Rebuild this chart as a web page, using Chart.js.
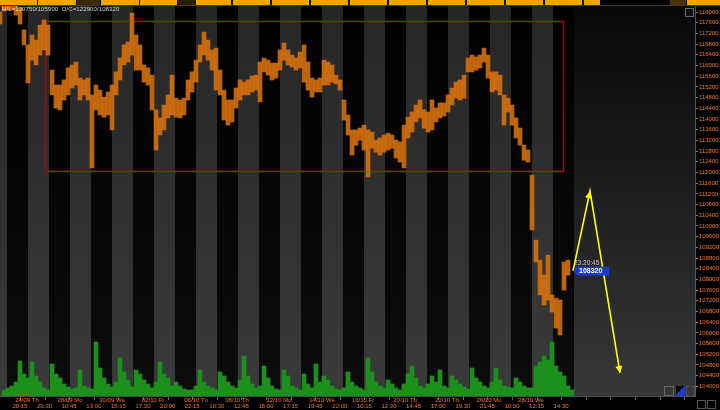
<!DOCTYPE html>
<html><head><meta charset="utf-8">
<script src="https://cdn.jsdelivr.net/npm/chart.js@4.4.1/dist/chart.umd.min.js"></script>
<style>
html,body{margin:0;padding:0;background:#000;width:720px;height:410px;overflow:hidden;}
#c{position:absolute;left:0;top:0;}
.seg{position:absolute;top:0;height:5px;}
.hdr{position:absolute;left:2px;top:6px;font:6px "Liberation Sans",Arial,sans-serif;color:#d8d8d8;white-space:pre;letter-spacing:0.1px;}
.ico{position:absolute;box-sizing:border-box;border:1px solid #555;}
</style></head><body>
<canvas id="c" width="720" height="410"></canvas>
<div id="bar"></div>
<div class="hdr">H/L=130750/105900  O/C=122900/108320</div>
<div class="ico" style="left:685px;top:8px;width:9px;height:9px;border-color:#666;background:#111"></div>
<div class="ico" style="left:664px;top:386px;width:10px;height:10px;border-color:#666"></div>
<div class="ico" style="left:676px;top:386px;width:9px;height:10px;border:none;background:linear-gradient(135deg,#000 45%,#1a3ccc 46%);"></div>
<div class="ico" style="left:686px;top:386px;width:9px;height:10px;border:1px dashed #555"></div>
<div class="ico" style="left:697px;top:400px;width:9px;height:9px;border-color:#555"></div>
<div class="ico" style="left:707px;top:400px;width:9px;height:9px;border-color:#555"></div>
<script>
// ---- data ----
const priceHigh = [118000,118220,118220,118220,118220,118150,117330,116770,117140,116950,117510,117700,117510,
 115830,115270,115270,115460,115910,116020,116130,115530,115460,115530,114900,115270,
 115080,114820,115010,115270,115760,116280,116770,116880,117960,117140,116770,116020,115910,
 115640,114340,114040,114520,114900,115640,114780,114710,114780,115460,115760,116200,116770,
 117250,116950,116580,116650,115830,115080,114710,114710,115160,115460,115380,115460,115610,
 115640,116130,116280,116200,116090,116090,116580,116840,116580,116390,116280,116500,116770,
 116130,115530,115460,115530,116200,116130,116020,115640,115460,114710,114150,113590,113590,
 113660,113770,113590,113510,113210,113290,113400,113470,113400,113210,113140,113770,114070,
 114260,114520,114710,114340,114260,114710,114410,114600,114600,114900,115160,115380,115460,
 115640,116280,116390,116320,116390,116650,116390,115760,115760,115640,114900,114780,114520,
 114040,113660,113020,112840,111900,109470,108720,108160,108910,107420,107300,107230,108650,108720];
const priceLow = [117550,118040,118080,118080,117890,117550,116770,115350,116200,116020,116390,116580,116390,
 114900,114410,114340,114710,114900,115160,115270,114710,114900,114710,112170,114340,
 114150,114070,114150,113590,114900,115460,116020,116130,116390,115830,115830,115380,115270,
 114340,112840,113400,113590,114040,114150,114070,114040,114150,114710,115010,115380,116130,
 116390,116200,115830,115080,114900,113960,113770,113890,114410,114710,114900,114900,115010,
 115080,114640,115760,115640,115460,115530,115830,116200,116020,115940,115830,115910,115380,
 115080,114820,115010,115010,115270,115270,115380,115310,115080,113960,113400,112650,113020,
 113210,112840,111830,112910,112760,112650,112760,112840,112910,112540,112390,112170,113290,
 113510,113890,114040,113660,113510,113590,113890,114040,114110,114260,114520,114780,114710,
 114780,115760,115760,115830,115910,116130,115530,115010,115080,114900,113770,114260,113770,
 113290,113020,112460,112390,109850,108650,107420,107040,107230,106780,106180,105920,107600,108160];
const volume = [60,80,100,140,350,220,180,340,200,140,80,60,320,
 220,180,120,90,70,80,260,100,80,70,540,280,
 180,120,90,140,380,240,160,90,260,220,160,120,80,
 140,340,220,180,100,140,100,70,60,60,100,260,140,
 100,80,60,240,200,140,100,80,160,400,200,120,80,
 100,300,180,100,70,60,260,200,100,80,60,220,120,
 80,320,140,200,160,100,70,60,80,240,140,100,80,
 60,380,240,140,100,80,160,120,80,60,120,220,300,
 180,100,80,120,200,140,260,100,80,200,160,120,90,
 70,280,180,140,100,80,140,280,160,100,90,80,180,
 140,100,80,80,300,340,400,360,540,300,240,200,100,60];
const sessionStarts = [-0.5,1.25,6.5,11.75,17,22.25,27.5,32.75,38,43.25,48.5,53.75,59,64.25,69.5,74.75,80,85.25,90.5,95.75,101,106.25,111.5,116.75,122,127.25,132.5,137.75];
const sessionEnd = 143;
const priceTicks = [104000,104400,104800,105200,105600,106000,106400,106800,107200,107600,108000,108400,108800,109200,109600,110000,110400,110800,111200,111600,112000,112400,112800,113200,113600,114000,114400,114800,115200,115600,116000,116400,116800,117200,117600,118000];
const timeTickPos = [4.5,10.65,16.8,22.95,29.1,35.25,41.4,47.55,53.7,59.85,66,72.15,78.3,84.45,90.6,96.75,102.9,109.05,115.2,121.35,127.5,133.65,139.8,145.95,152.1,158.25,164.4,170.55];
const timeTickLabels = ["20:15","22:30","10:45","13:00","15:15","17:30","20:00","22:15","10:30","12:45","15:00","17:15","19:45","22:00","10:15","12:30","14:45","17:00","19:30","21:45","10:00","12:15","14:30","","","","",""];
const dateTickPos = [6.25,17,27.5,37.75,48.5,58.75,69.25,80,90.25,100.75,111.25,121.75,132.25];
const dateTickLabels = ["24/09 Th","28/09 Mo","30/09 We","02/10 Fr","06/10 Tu","08/10 Th","12/10 Mo","14/10 We","16/10 Fr","20/10 Tu","22/10 Th","26/10 Mo","28/10 We"];
const zoneBox = {from:10.75, to:140.25, high:117660, low:112050};
const projX = [142.75, 147, 154.5];
const projY = [108320, 111300, 104500];
const lastPrice = 108320;
const lastTime = "23:20:45";

const segs=[[0,37,'#f5a300'],[38,76,'#f5a300'],[77,100,'#3a2800'],[101,139,'#f5a300'],[140,177,'#f5a300'],[178,195,'#2a1c00'],[196,231,'#f5a300'],[233,270,'#f5a300'],[272,309,'#f5a300'],[311,348,'#f5a300'],[350,387,'#f5a300'],[389,426,'#f5a300'],[428,465,'#f5a300'],[467,504,'#f5a300'],[506,543,'#f5a300'],[545,582,'#f5a300'],[584,600,'#f5a300'],[670,686,'#4a3300'],[687,720,'#f5a300']];
const bar=document.getElementById('bar');
segs.forEach(s=>{const d=document.createElement('div');d.className='seg';d.style.left=s[0]+'px';d.style.width=(s[1]-s[0])+'px';d.style.background=s[2];bar.appendChild(d);});
const ln=document.createElement('div');ln.style.cssText='position:absolute;left:0;top:5px;width:720px;height:1px;background:#3a3a3a';bar.appendChild(ln);

Chart.defaults.font.family = '"Liberation Sans", Arial, sans-serif';
const ORANGE = '#f07820';
const tickFont = {size:6};

const bgPlugin = {
  id:'bg',
  beforeDraw(chart){
    const c=chart.ctx; c.save(); c.fillStyle='#000'; c.fillRect(0,0,chart.width,chart.height); c.restore();
  },
  beforeDatasetsDraw(chart){
    const {ctx, chartArea:a, scales:{x,y}} = chart;
    ctx.save();
    const g = ctx.createLinearGradient(0,a.top,0,a.bottom);
    g.addColorStop(0,'#080808'); g.addColorStop(0.5,'#1e1e1e'); g.addColorStop(1,'#383838');
    ctx.fillStyle=g; ctx.fillRect(a.left,a.top,a.width,a.height);
    const gGray = ctx.createLinearGradient(0,a.top,0,a.bottom);
    gGray.addColorStop(0,'#262626'); gGray.addColorStop(1,'#3a3a3a');
    const gBlack = ctx.createLinearGradient(0,a.top,0,a.bottom);
    gBlack.addColorStop(0,'#000'); gBlack.addColorStop(1,'#0c0c0c');
    for(let i=0;i<sessionStarts.length;i++){
      const e = i+1<sessionStarts.length ? sessionStarts[i+1] : sessionEnd;
      const x0=Math.max(a.left, x.getPixelForValue(sessionStarts[i])), x1=x.getPixelForValue(e);
      ctx.fillStyle = i%2===0 ? gGray : gBlack;
      ctx.fillRect(Math.round(x0), a.top, Math.round(x1)-Math.round(x0), a.height);
    }
    const rx0=Math.round(x.getPixelForValue(zoneBox.from))+0.5, rx1=Math.round(x.getPixelForValue(zoneBox.to))+0.5;
    const ry0=Math.round(y.getPixelForValue(zoneBox.high))+0.5, ry1=Math.round(y.getPixelForValue(zoneBox.low))+0.5;
    ctx.strokeStyle='#b80000'; ctx.lineWidth=1.5;
    ctx.strokeRect(rx0,ry0,rx1-rx0,ry1-ry0);
    ctx.restore();
  },
  afterDatasetsDraw(chart){
    const {ctx, scales:{x,y}, chartArea:a} = chart;
    ctx.save();
    ctx.fillStyle='#ffff00';
    for(let i=1;i<projX.length;i++){
      const px=x.getPixelForValue(projX[i]), py=y.getPixelForValue(projY[i]);
      const qx=x.getPixelForValue(projX[i-1]), qy=y.getPixelForValue(projY[i-1]);
      const ang=Math.atan2(py-qy,px-qx), L=7, W=3.5;
      ctx.beginPath();
      ctx.moveTo(px,py);
      ctx.lineTo(px-L*Math.cos(ang)+W*Math.sin(ang), py-L*Math.sin(ang)-W*Math.cos(ang));
      ctx.lineTo(px-L*Math.cos(ang)-W*Math.sin(ang), py-L*Math.sin(ang)+W*Math.cos(ang));
      ctx.closePath(); ctx.fill();
    }
    const ly=Math.round(y.getPixelForValue(lastPrice));
    const lx=Math.round(x.getPixelForValue(priceHigh.length-1))+3;
    ctx.fillStyle='#1b3ad6';
    ctx.beginPath();
    ctx.moveTo(lx,ly); ctx.lineTo(lx+4,ly-4.5); ctx.lineTo(lx+36,ly-4.5); ctx.lineTo(lx+36,ly+4.5); ctx.lineTo(lx+4,ly+4.5); ctx.closePath(); ctx.fill();
    ctx.fillStyle='#ffffff'; ctx.font='bold 7px "Liberation Sans", Arial'; ctx.textBaseline='middle'; ctx.textAlign='left';
    ctx.fillText(String(lastPrice), lx+6, ly+0.5);
    ctx.fillStyle='#cfcfcf'; ctx.font='6.5px "Liberation Sans", Arial';
    ctx.fillText(lastTime, lx+1, ly-8);
    ctx.beginPath(); ctx.moveTo(0,a.bottom+0.5); ctx.lineTo(a.right,a.bottom+0.5); ctx.strokeStyle='#4a4a4a'; ctx.lineWidth=1; ctx.stroke();
    ctx.strokeStyle='#666';
    timeTickPos.forEach(v=>{const px=Math.round(x.getPixelForValue(v))+0.5; ctx.beginPath(); ctx.moveTo(px,a.bottom+1); ctx.lineTo(px,a.bottom+4); ctx.stroke();});
    ctx.font='6px "Liberation Sans", Arial'; ctx.textAlign='center'; ctx.textBaseline='top'; ctx.fillStyle=ORANGE;
    dateTickPos.forEach((v,i)=>ctx.fillText(dateTickLabels[i], x.getPixelForValue(v), a.bottom+1.5));
    timeTickPos.forEach((v,i)=>{ if(timeTickLabels[i]) ctx.fillText(timeTickLabels[i], x.getPixelForValue(v), a.bottom+7.5); });
    ctx.restore();
  }
};

const priceData = priceHigh.map((h,i)=>({x:i, y:[priceLow[i], h]}));
const volData = volume.map((v,i)=>({x:i, y:v}));
const projData = projX.map((v,i)=>({x:v, y:projY[i]}));

new Chart(document.getElementById('c'), {
  type:'bar',
  data:{datasets:[
    {type:'line', data:projData, borderColor:'#ffff00', borderWidth:1.6, pointRadius:0, order:1, yAxisID:'y', xAxisID:'x', tension:0},
    {data:priceData, backgroundColor:'rgba(222,116,14,0.85)', borderWidth:0, barThickness:4, order:2, yAxisID:'y', xAxisID:'x'},
    {data:volData, backgroundColor:'#1b901b', borderWidth:0, barThickness:4, order:3, yAxisID:'yVol', xAxisID:'x'}
  ]},
  options:{
    responsive:false, animation:false, devicePixelRatio:1,
    layout:{padding:{top:6,left:0,right:0,bottom:14}},
    plugins:{legend:{display:false}, tooltip:{enabled:false}},
    scales:{
      x:{type:'linear', display:false, min:-0.5, max:173.25, offset:false},
      y:{type:'linear', position:'right', min:103640, max:118225,
        grid:{drawOnChartArea:false, drawTicks:true, tickLength:3, color:'#777'},
        border:{display:true, color:'#555'},
        ticks:{color:ORANGE, font:tickFont, padding:1, autoSkip:false, callback:function(v){ return String(v); }},
        afterBuildTicks:s=>{s.ticks=priceTicks.map(v=>({value:v}));},
        afterFit:s=>{s.width=25;}},
      yVol:{type:'linear', display:false, min:0, max:3900}
    }
  },
  plugins:[bgPlugin]
});
</script>
</body></html>
